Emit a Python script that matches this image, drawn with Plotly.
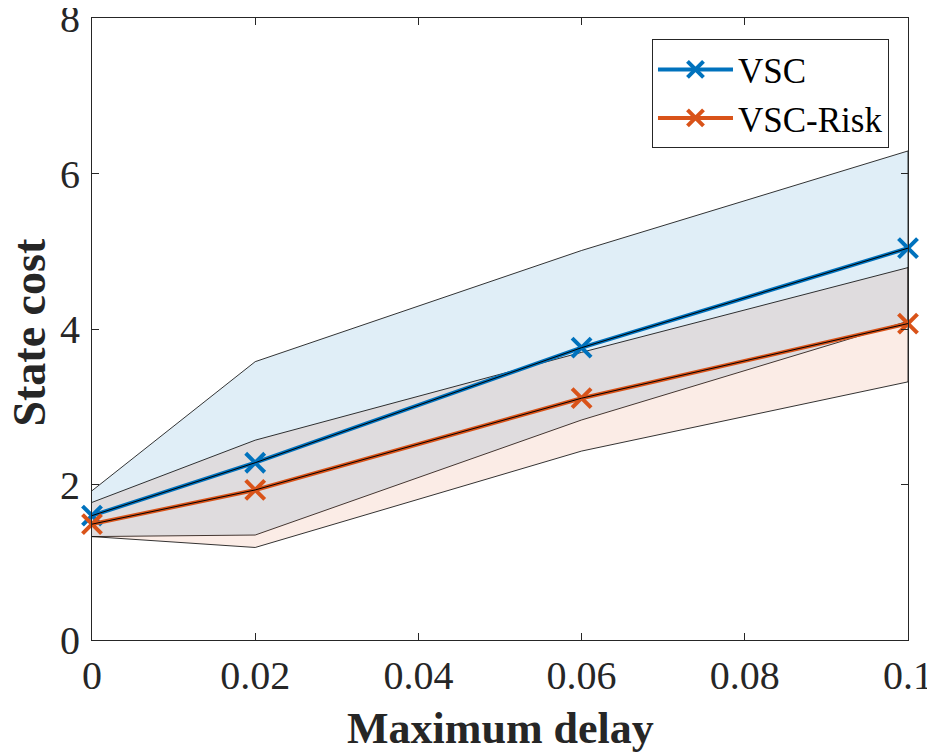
import plotly.graph_objects as go

delay = [0, 0.02, 0.06, 0.1]
tick_vals = [0, 0.02, 0.04, 0.06, 0.08, 0.1]
tick_text = ["0", "0.02", "0.04", "0.06", "0.08", "0.1"]

vsc_mean = [1.60, 2.28, 3.76, 5.04]
vsc_upper = [1.92, 3.58, 5.01, 6.29]
vsc_lower = [1.33, 1.35, 2.83, 4.10]

risk_mean = [1.49, 1.93, 3.11, 4.07]
risk_upper = [1.77, 2.57, 3.70, 4.79]
risk_lower = [1.33, 1.19, 2.43, 3.32]

blue = "#0072BD"
orange = "#D95319"
font = "Liberation Serif, Times New Roman, serif"

fig = go.Figure()

for up, lo, fillc in [(vsc_upper, vsc_lower, "rgba(0,114,189,0.12)"),
                      (risk_upper, risk_lower, "rgba(217,83,25,0.11)")]:
    fig.add_trace(go.Scatter(
        x=delay + delay[::-1], y=up + lo[::-1], fill="toself", fillcolor=fillc,
        mode="lines", line=dict(color="black", width=0.8), showlegend=False, hoverinfo="skip"))

for name, mean, col in [("VSC", vsc_mean, blue), ("VSC-Risk", risk_mean, orange)]:
    fig.add_trace(go.Scatter(
        x=delay, y=mean, name=name, mode="lines+markers",
        line=dict(color=col, width=4),
        marker=dict(symbol="x-thin", size=19, line=dict(color=col, width=4)),
        cliponaxis=False))
for mean in [vsc_mean, risk_mean]:
    fig.add_trace(go.Scatter(x=delay, y=mean, mode="lines", line=dict(color="black", width=1),
                             showlegend=False, hoverinfo="skip"))

axis_common = dict(showgrid=False, zeroline=False, showline=True, linecolor="#262626", linewidth=1,
                   mirror="ticks", ticks="inside", ticklen=7, tickcolor="#262626", automargin=False,
                   ticklabeloverflow="allow",
                   tickfont=dict(family=font, size=40, color="#262626"))

fig.update_layout(
    width=927, height=745,
    margin=dict(l=84, r=27, t=10, b=113),
    plot_bgcolor="white", paper_bgcolor="white",
    xaxis=dict(range=[0, 0.1], tickvals=tick_vals, ticktext=tick_text, **axis_common),
    yaxis=dict(range=[0, 8], tickvals=[0, 2, 4, 6, 8], ticklabelstandoff=3, **axis_common),
    legend=dict(x=0.9767, y=0.966, xanchor="right", yanchor="top", bgcolor="white",
                bordercolor="#262626", borderwidth=1, itemwidth=75,
                font=dict(family=font, size=35, color="black"), tracegroupgap=0),
    showlegend=True,
    annotations=[
        dict(text="<b>Maximum delay</b>", xref="paper", yref="paper", x=0.5, y=-0.142,
             xanchor="center", yanchor="middle", showarrow=False,
             font=dict(family=font, size=44, color="#262626")),
        dict(text="<b>State cost</b>", xref="paper", yref="paper", x=-0.0765, y=0.4936,
             xanchor="center", yanchor="middle", textangle=-90, showarrow=False,
             font=dict(family=font, size=46, color="#262626")),
    ],
)

fig.write_html("out.html")
